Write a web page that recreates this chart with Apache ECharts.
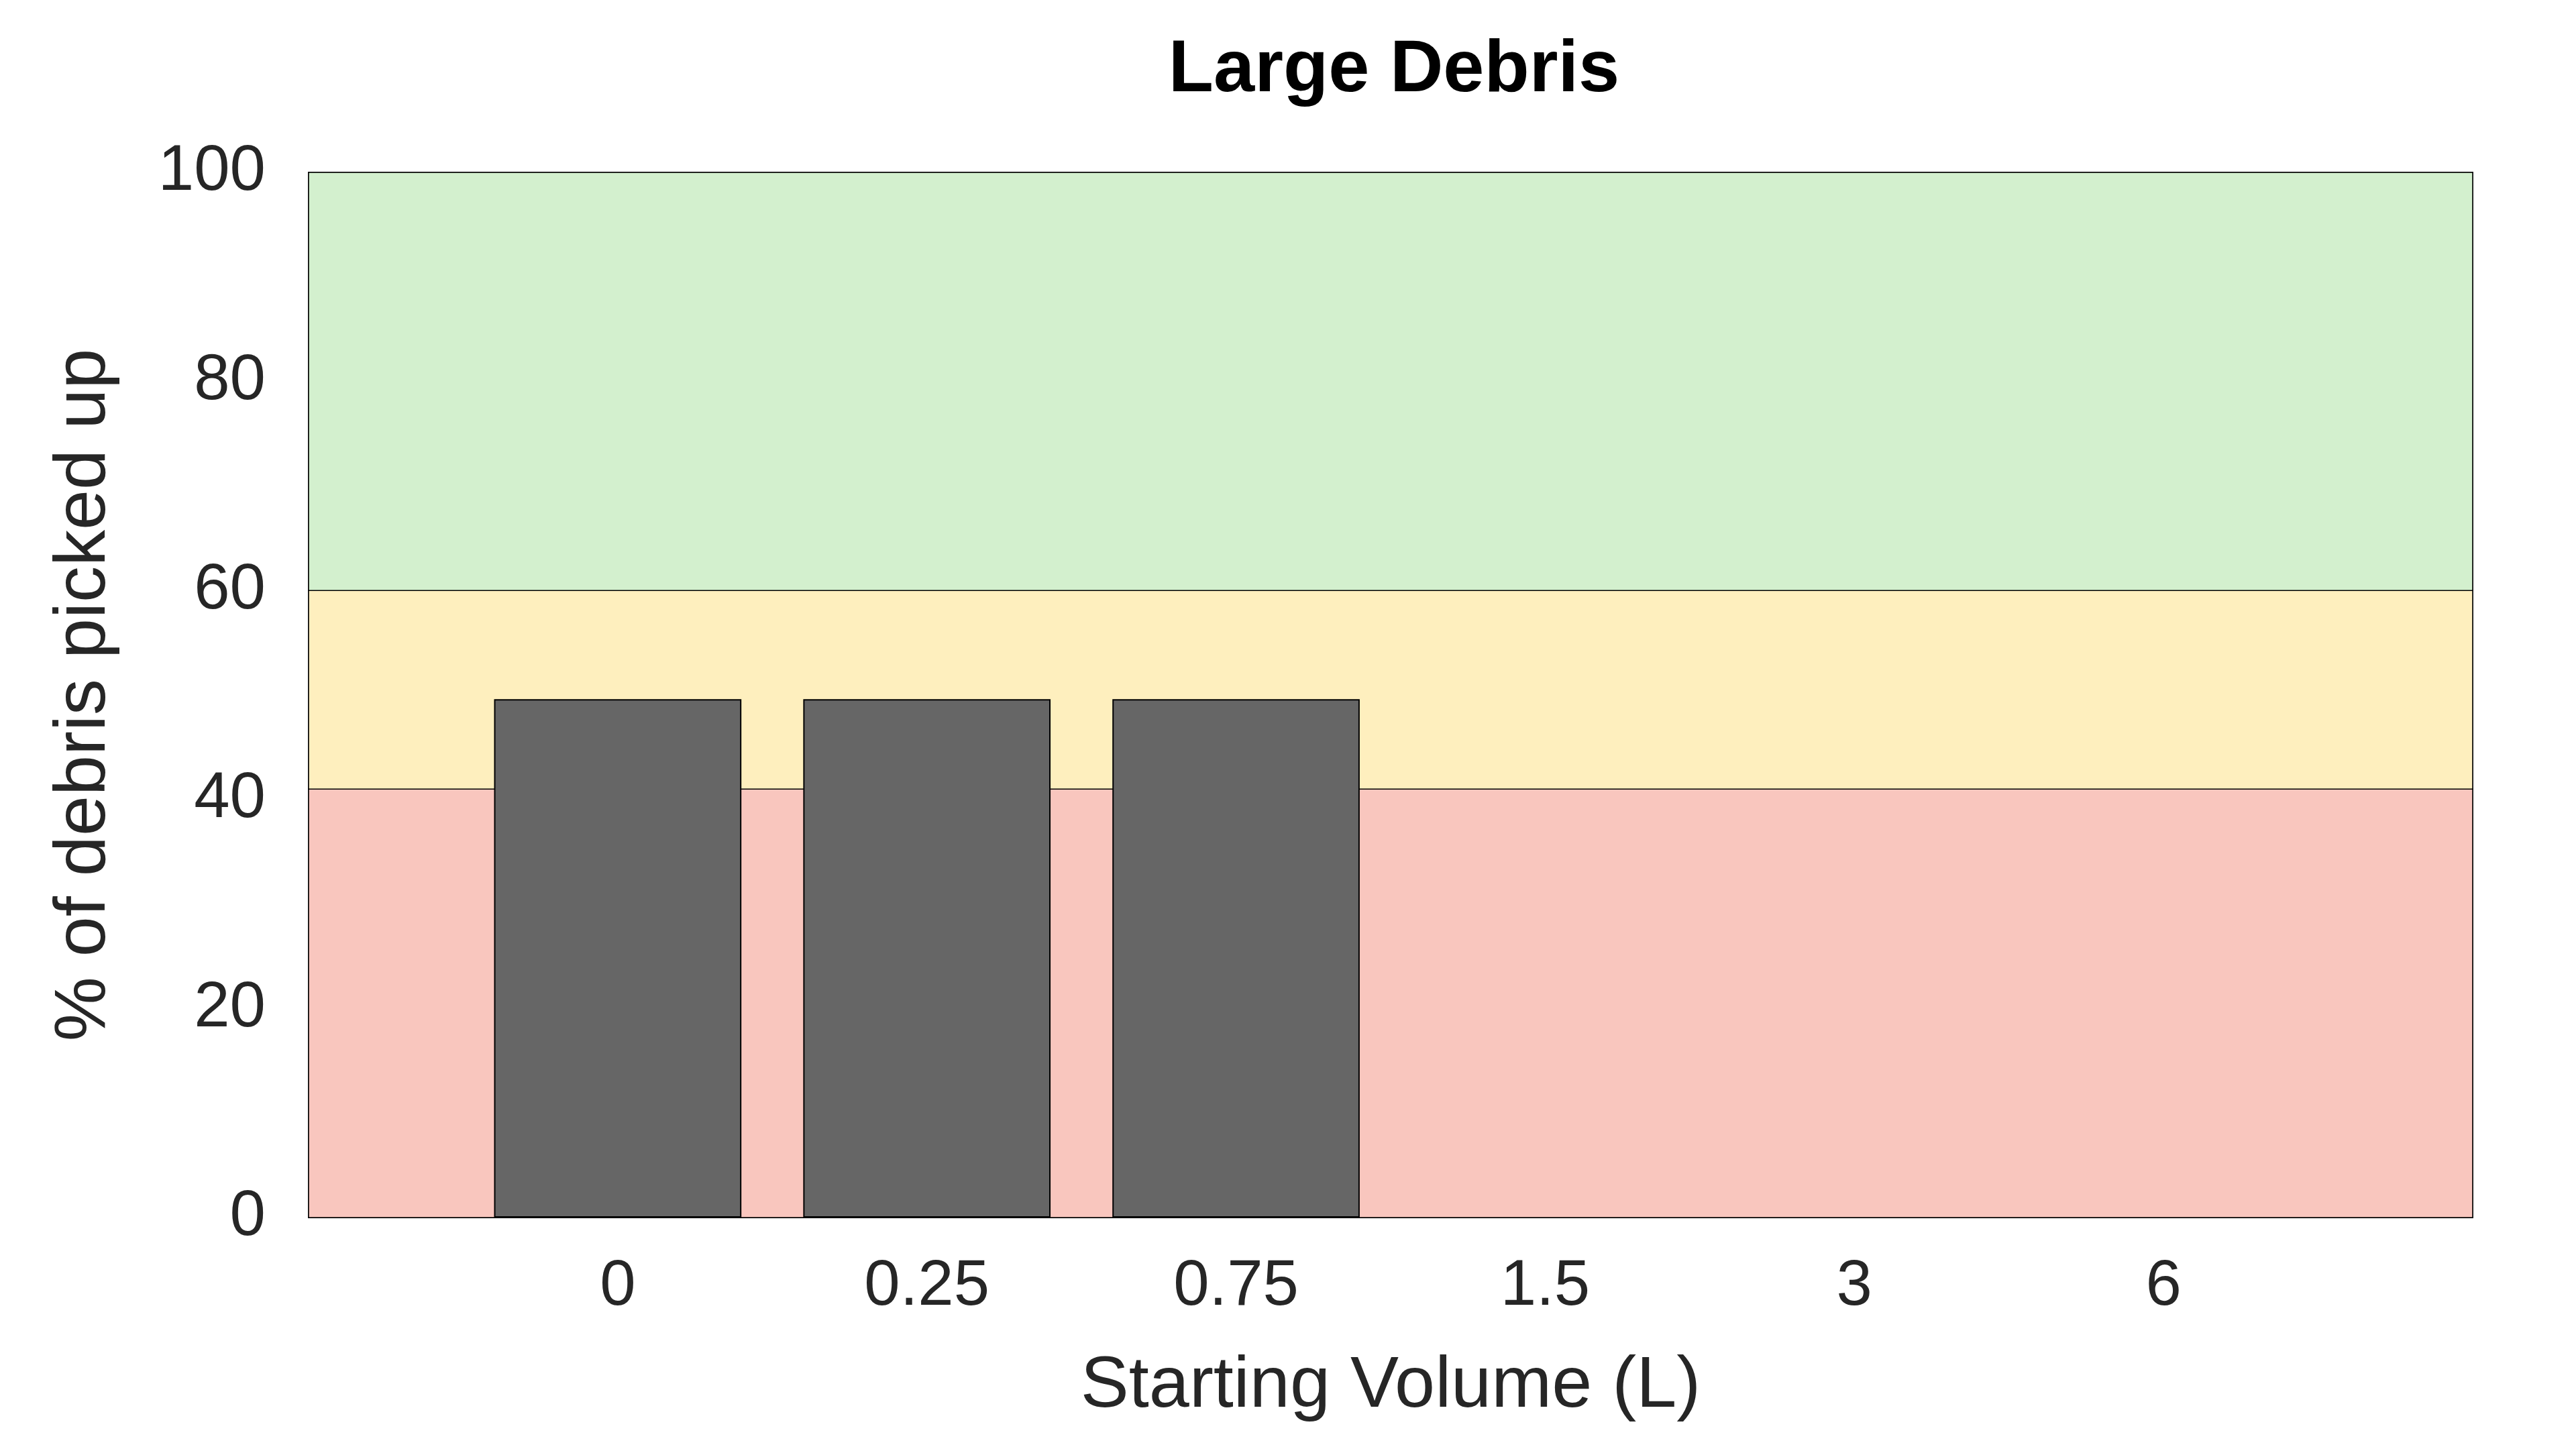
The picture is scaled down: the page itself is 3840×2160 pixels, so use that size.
<!DOCTYPE html>
<html>
<head>
<meta charset="utf-8">
<script src="https://cdn.jsdelivr.net/npm/echarts@6/dist/echarts.min.js"></script>
<style>
html,body{margin:0;padding:0;background:#fff;}
#chart{width:3840px;height:2160px;}
</style>
</head>
<body>
<div id="chart"></div>
<script>
// ---- data ----
const titleText = 'Large Debris';
const xAxisTitle = 'Starting Volume (L)';
const yAxisTitle = '% of debris picked up';
const categories = ['0', '0.25', '0.75', '1.5', '3', '6'];
const pickedUp = [49.6, 49.6, 49.6, null, null, null];
const yTicks = [0, 20, 40, 60, 80, 100];
// background bands [from, to]
const bandLow = [0, 41];
const bandMid = [41, 60];
const bandHigh = [60, 100];
const bandColors = ['#f9c6be', '#feefbe', '#d3f0ce'];

// padded category axis so categories sit at 1..6 of a 0..7 span
const axisCats = [''].concat(categories, ['']);
const barData = [null].concat(pickedUp, [null]);

const FONT = '"Liberation Sans", Arial, Helvetica, sans-serif';
const TXT = '#262626';

const chart = echarts.init(document.getElementById('chart'), null, {renderer: 'canvas'});
chart.setOption({
  backgroundColor: '#ffffff',
  animation: false,
  title: {
    text: titleText,
    left: 2073,
    textAlign: 'center',
    top: 46,
    textStyle: {fontFamily: FONT, fontSize: 110, fontWeight: 'bold', color: '#000000'}
  },
  grid: {
    left: 460, right: 154, top: 257, bottom: 345,
    show: true, borderColor: TXT, borderWidth: 2, backgroundColor: 'transparent'
  },
  xAxis: {
    type: 'category',
    data: axisCats,
    boundaryGap: false,
    name: xAxisTitle,
    nameLocation: 'middle',
    nameGap: 198,
    nameTextStyle: {fontFamily: FONT, fontSize: 108, color: TXT},
    axisLine: {show: true, lineStyle: {color: TXT, width: 2}},
    axisTick: {
      show: true, inside: true, length: 16, lineStyle: {color: TXT, width: 2},
      interval: function (i, v) { return v !== ''; }
    },
    axisLabel: {
      show: true, margin: 56, fontFamily: FONT, fontSize: 96, color: TXT,
      interval: function (i, v) { return v !== ''; }
    },
    splitLine: {show: false}
  },
  yAxis: {
    type: 'value',
    min: yTicks[0], max: yTicks[yTicks.length - 1], interval: 20,
    name: yAxisTitle,
    nameLocation: 'middle',
    nameRotate: 90,
    nameGap: 280,
    nameTextStyle: {fontFamily: FONT, fontSize: 108, color: TXT},
    axisLine: {show: true, lineStyle: {color: TXT, width: 2}},
    axisTick: {show: true, inside: true, length: 16, lineStyle: {color: TXT, width: 2}},
    axisLabel: {margin: 64, fontFamily: FONT, fontSize: 96, color: TXT},
    splitLine: {show: false}
  },
  series: [
    {
      type: 'line',
      data: [],
      z: 1,
      silent: true,
      markArea: {
        silent: true,
        label: {show: false},
        data: [
          [{yAxis: bandLow[0], itemStyle: {color: bandColors[0], borderColor: '#000', borderWidth: 1.5}}, {yAxis: bandLow[1]}],
          [{yAxis: bandMid[0], itemStyle: {color: bandColors[1], borderColor: '#000', borderWidth: 1.5}}, {yAxis: bandMid[1]}],
          [{yAxis: bandHigh[0], itemStyle: {color: bandColors[2], borderColor: '#000', borderWidth: 1.5}}, {yAxis: bandHigh[1]}]
        ]
      }
    },
    {
      type: 'bar',
      data: barData,
      barWidth: '80%',
      z: 3,
      itemStyle: {color: '#666666', borderColor: '#000000', borderWidth: 2}
    }
  ]
});
</script>
</body>
</html>
